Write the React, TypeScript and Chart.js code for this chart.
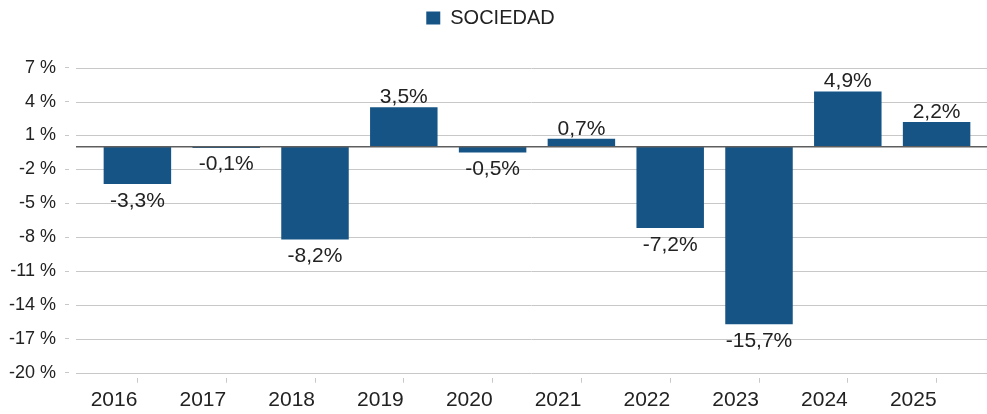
import React, { useEffect, useRef } from "react";
import { Chart, registerables } from "chart.js";

Chart.register(...registerables);

const years = ["2016", "2017", "2018", "2019", "2020", "2021", "2022", "2023", "2024", "2025"];
const sociedad = [-3.3, -0.1, -8.2, 3.5, -0.5, 0.7, -7.2, -15.7, 4.9, 2.2];
const seriesName = "SOCIEDAD";
const yMin = -20;
const yMax = 7;
const yStep = 3;

const BAR = "#165486";
const GRID = "#c8c8c8";
const TEXT = "#222222";
const FONT = "'Liberation Sans', Arial, sans-serif";

const fmt = (v: number) => v.toFixed(1).replace(".", ",") + "%";

const linesAndLabels = {
  id: "linesAndLabels",
  beforeDatasetsDraw(chart: any) {
    const { ctx, chartArea, scales } = chart;
    const y = scales.y;
    ctx.save();
    ctx.strokeStyle = GRID;
    ctx.lineWidth = 1;
    y.ticks.forEach((t: any) => {
      const py = Math.round(y.getPixelForValue(t.value)) + 0.5;
      ctx.beginPath();
      ctx.moveTo(chartArea.left - 17, py);
      ctx.lineTo(chart.width, py);
      ctx.stroke();
    });
    ctx.restore();
  },
  afterDatasetsDraw(chart: any) {
    const { ctx, chartArea, scales } = chart;
    const y = scales.y;
    ctx.save();
    const z = y.getPixelForValue(0);
    ctx.strokeStyle = "#5e5e5e";
    ctx.lineWidth = 1.5;
    ctx.beginPath();
    ctx.moveTo(chartArea.left - 17, z);
    ctx.lineTo(chart.width, z);
    ctx.stroke();

    const meta = chart.getDatasetMeta(0);
    const data = chart.data.datasets[0].data as number[];
    ctx.fillStyle = TEXT;
    ctx.font = `21px ${FONT}`;
    ctx.textAlign = "center";
    ctx.textBaseline = "alphabetic";
    meta.data.forEach((el: any, i: number) => {
      const v = data[i];
      if (v >= 0) {
        ctx.fillText(fmt(v), el.x, el.y - 4);
      } else {
        ctx.fillText(fmt(v), el.x, el.y + 22.5);
      }
    });
    ctx.restore();
  },
};

export default function App() {
  const ref = useRef<HTMLCanvasElement | null>(null);
  useEffect(() => {
    if (!ref.current) return;
    const chart = new Chart(ref.current, {
      type: "bar",
      data: {
        labels: years,
        datasets: [
          {
            label: seriesName,
            data: sociedad,
            backgroundColor: BAR,
            borderWidth: 0,
            barPercentage: 0.76,
            categoryPercentage: 1,
          },
        ],
      },
      options: {
        responsive: false,
        animation: false,
        devicePixelRatio: 1,
        layout: { padding: { left: 0, right: 6, top: 0, bottom: 0 } },
        plugins: {
          legend: {
            display: true,
            position: "top",
            labels: {
              boxWidth: 14,
              boxHeight: 13,
              padding: 8,
              color: TEXT,
              font: { family: FONT, size: 20 },
            },
          },
          title: {
            display: true,
            text: "",
            weight: 500,
            font: { size: 1, lineHeight: 1.2 },
            padding: { top: 0, bottom: 28.5 },
          },
          tooltip: { enabled: false },
        },
        scales: {
          x: {
            type: "category",
            offset: true,
            border: { display: false },
            grid: {
              display: true,
              drawOnChartArea: false,
              drawTicks: true,
              tickLength: 10,
              offset: false,
              tickColor: GRID,
              tickBorderDash: [5, 5],
              tickBorderDashOffset: 5,
            },
            ticks: {
              align: "end",
              autoSkip: false,
              maxRotation: 0,
              minRotation: 0,
              padding: 5,
              color: TEXT,
              font: { family: FONT, size: 21 },
            },
            afterFit: (s: any) => {
              s.height = 41.3;
            },
          },
          y: {
            type: "linear",
            min: yMin,
            max: yMax,
            border: { display: false },
            grid: {
              display: true,
              drawOnChartArea: false,
              drawTicks: true,
              tickLength: 28,
              tickColor: GRID,
              tickBorderDash: [4, 24],
            },
            ticks: {
              stepSize: yStep,
              padding: 9,
              color: TEXT,
              font: { family: FONT, size: 18 },
              callback: (v: any) => `${v} %`,
            },
            afterFit: (s: any) => {
              s.width = 93;
            },
          },
        },
      },
      plugins: [linesAndLabels],
    });
    return () => chart.destroy();
  }, []);
  return (
    <div style={{ position: "absolute", left: 0, top: 0, width: 987, height: 414, background: "#fff" }}>
      <canvas ref={ref} width={987} height={414} style={{ display: "block" }} />
    </div>
  );
}
